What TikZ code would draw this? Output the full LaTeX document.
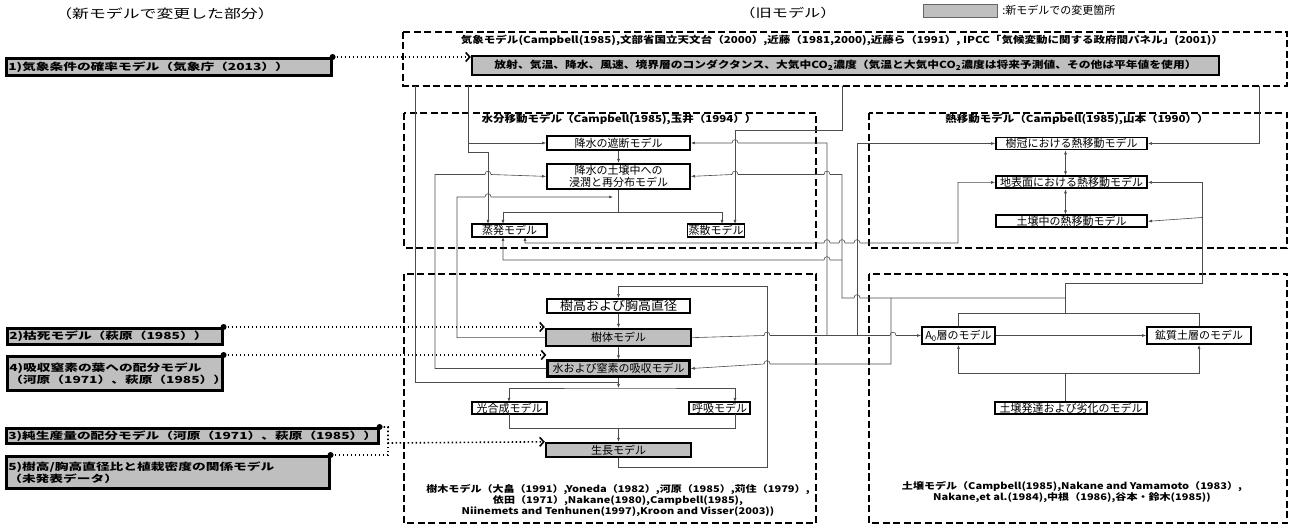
\documentclass[tikz,border=0pt]{standalone}
\usepackage{fontspec}
\setmainfont{Noto Sans CJK JP}
\newfontfamily\jp{Noto Sans CJK JP}
\newfontfamily\jpb[FakeStretch=1.2]{Noto Sans CJK JP}
\newfontfamily\jpw[FakeStretch=1.4]{Noto Sans CJK JP}
\newfontfamily\jps[FakeStretch=1.35]{Noto Sans CJK JP}
\usepackage{tikz}
\usetikzlibrary{positioning}
\usetikzlibrary{arrows.meta}
\definecolor{chg}{RGB}{191,191,191}
% line hops (x of crossing, y of line)
\newcommand{\hopr}[2]{-- ({#1-3},#2) .. controls ({#1-3},{#2-4.5}) and ({#1+3},{#2-4.5}) .. ({#1+3},#2)}
\newcommand{\hopl}[2]{-- ({#1+3},#2) .. controls ({#1+3},{#2-4.5}) and ({#1-3},{#2-4.5}) .. ({#1-3},#2)}

\begin{document}
\begin{tikzpicture}[x=1pt,y=-1pt]
% Styles:
\tikzset{frame/.style={draw, line width=1.5pt, dash pattern=on 7pt off 3.5pt}}
\tikzset{ttl/.style={inner sep=0pt, font=\jpb\bfseries\fontsize{9.6}{10}\selectfont}}
\tikzset{mbox/.style={draw, line width=1.9pt, fill=white, inner sep=0pt, font=\jp\fontsize{11}{12.5}\selectfont}}
\tikzset{newbox/.style={mbox, fill=chg, line width=2.4pt}}
\tikzset{addbox/.style={draw, line width=2.6pt, fill=chg, anchor=north west, inner sep=2pt, align=left, font=\jpw\bfseries\fontsize{9.8}{12}\selectfont}}
\tikzset{conn/.style={draw=black!70, line width=0.6pt}}
\tikzset{arr/.style={conn, -{Latex[length=4pt,width=3pt]}}}
\tikzset{darr/.style={conn, {Latex[length=4pt,width=3pt]}-{Latex[length=4pt,width=3pt]}}}
\tikzset{link/.style={line width=1.6pt, dash pattern=on 1.6pt off 2.4pt, -{Straight Barb[length=4pt,width=9pt]}}}

\useasboundingbox (0,0) rectangle (1291,526);

% Frames:
\draw[frame] (403,32) rectangle (1287,86);
\draw[frame] (404,113) rectangle (816,248);
\draw[frame] (869,113) rectangle (1287,248);
\draw[frame] (404,274) rectangle (816,523);
\draw[frame] (869,274) rectangle (1287,523);

% Header:
\node[font=\jps\fontsize{12.5}{13}\selectfont] (hdnew) at (165,14) {（新モデルで変更した部分）};
\node[font=\jps\fontsize{12}{13}\selectfont] (hdold) at (788,13) {（旧モデル）};
\node[draw=black!60, fill=chg, minimum width=74pt, minimum height=13pt, inner sep=0pt] (legend) at (960,10.5) {};
\node[font=\jp\fontsize{11}{12}\selectfont, inner sep=0pt] (legtxt) [right=5pt of legend] {:新モデルでの変更箇所};

% Weather model:
\node[ttl] (kisho) at (842,40) {気象モデル(Campbell(1985),文部省国立天文台（2000）,近藤（1981,2000),近藤ら（1991）, IPCC「気候変動に関する政府間パネル」(2001)）};
\node[newbox, minimum width=747pt, minimum height=19pt, font=\jpb\bfseries\fontsize{9.8}{11}\selectfont] (kishoin) at (845.5,65.5) {放射、気温、降水、風速、境界層のコンダクタンス、大気中CO\textsubscript{2}濃度（気温と大気中CO\textsubscript{2}濃度は将来予測値、その他は平年値を使用）};

% Water model:
\node[ttl] (suibun) at (619,119) {水分移動モデル（Campbell(1985),玉井（1994））};
\node[mbox, minimum width=143pt, minimum height=14pt] (shadan) at (618.5,143) {降水の遮断モデル};
\node[mbox, minimum width=143pt, minimum height=25pt, align=center] (shinjun) [below=12pt of shadan] {降水の土壌中への\\浸潤と再分布モデル};
\node[mbox, minimum width=75pt, minimum height=13pt] (johatsu) at (509.5,230.5) {蒸発モデル};
\node[mbox, minimum width=57pt, minimum height=13pt] (josan) at (716,230.5) {蒸散モデル};

% Heat model:
\node[ttl] (netsu) at (1077,119) {熱移動モデル（Campbell(1985),山本（1990））};
\node[mbox, minimum width=151pt, minimum height=12pt] (jukan) at (1071.5,143.5) {樹冠における熱移動モデル};
\node[mbox, minimum width=151pt, minimum height=12pt] (chihyo) [below=25pt of jukan] {地表面における熱移動モデル};
\node[mbox, minimum width=151pt, minimum height=12pt] (dochu) [below=25pt of chihyo] {土壌中の熱移動モデル};

% Tree model:
\node[mbox, minimum width=143pt, minimum height=14pt, font=\jp\fontsize{13}{14}\selectfont] (jukou) at (618.5,306) {樹高および胸高直径};
\node[newbox, minimum width=145pt, minimum height=17pt] (jutai) [below=14pt of jukou] {樹体モデル};
\node[newbox, minimum width=142pt, minimum height=16pt] (kyushu) [below=12pt of jutai] {水および窒素の吸収モデル};
\node[mbox, minimum width=75pt, minimum height=12pt] (kogo) at (509.5,408) {光合成モデル};
\node[mbox, minimum width=61pt, minimum height=12pt] (kokyu) at (719.5,408) {呼吸モデル};
\node[newbox, minimum width=145pt, minimum height=14pt] (seicho) at (618.5,450) {生長モデル};
\node[ttl, align=center, font=\jpb\bfseries\fontsize{9.2}{9.8}\selectfont] (jumoku) at (618,500.5) {樹木モデル（大畠（1991）,Yoneda（1982）,河原（1985）,苅住（1979）,\\依田（1971）,Nakane(1980),Campbell(1985),\\Niinemets and Tenhunen(1997),Kroon and Visser(2003))};

% Soil model:
\node[mbox, minimum width=73pt, minimum height=17pt] (a0) at (958.5,335.5) {A\textsubscript{0}層のモデル};
\node[mbox, minimum width=104pt, minimum height=17pt] (kosh) at (1199,335.5) {鉱質土層のモデル};
\node[mbox, minimum width=152pt, minimum height=12pt] (dojo) at (1071,408) {土壌発達および劣化のモデル};
\node[ttl, align=center, font=\jpb\bfseries\fontsize{9.2}{9.8}\selectfont] (dojottl) at (1072,492) {土壌モデル（Campbell(1985),Nakane and Yamamoto（1983）,\\Nakane,et al.(1984),中根（1986),谷本・鈴木(1985))};

% Changed parts (left):
\node[addbox, text width=321pt, minimum height=17pt] (n1) at (5,57) {1)気象条件の確率モデル（気象庁（2013））};
\node[addbox, text width=211pt, minimum height=16pt] (n2) at (6,327) {2)枯死モデル（萩原（1985））};
\node[addbox, text width=211pt, minimum height=34pt] (n4) at (6,355) {4)吸収窒素の葉への配分モデル\\（河原（1971）、萩原（1985））};
\node[addbox, text width=368pt, minimum height=15pt] (n3) at (5,427) {3)純生産量の配分モデル（河原（1971）、萩原（1985））};
\node[addbox, text width=319pt, minimum height=32pt] (n5) at (5,455) {5)樹高/胸高直径比と植栽密度の関係モデル\\（未発表データ）};

% Weather outlets:
\coordinate (wA) at (415,86);
\coordinate (wB) at (468,86);
\coordinate (wC) at (842,86);
\coordinate (wD) at (1259,86);
\draw[arr] (wB) |- (shadan.west);
\draw[arr] (wB) -- (468,152) -| (488,224);
\draw[arr] (wC) |- (735,130) -- (735,224);
\draw[arr] (wD) |- (jukan.east);
\draw[conn] (wA) |- (618.5,382);

% Tree links:
\draw[arr] (kyushu.south) -- (618.5,388);
\draw[darr] (509,402) |- (618.5,388) -| (735,402);
\draw[conn] (509,414) |- (735,428) -- (735,414);
\draw[arr] (618.5,428) -- (seicho.north);
\draw[arr] (seicho.south) |- (767,467) |- (618.5,286) -- (jukou.north);
\draw[arr] (jukou.south) -- (jutai.north);
\draw[arr] (jutai.south) -- (kyushu.north);

% Water links:
\draw[arr] (shadan.south) -- (shinjun.north);
\draw[arr] (jutai.west) -| (457,197) \hopr{488}{197} -- (613,197);
\draw[arr] (kyushu.west) -| (435,174.5) \hopr{488}{174.5} -- (shinjun.west);
\draw[conn] (shinjun.south) -- (618.5,212);
\draw[darr] (503,224) |- (722,212) -- (722,224);

% Soil outlets:
\draw[conn] (a0.north) |- (1199,313) -- (kosh.north);
\draw[arr] (1065,313) |- (1202,283) |- (chihyo.east);
\draw[arr] (1202,217.5) -- (dochu.east);
\draw[arr] (1065,298) -- (891,298) \hopl{857}{298} -- (842,298) -- (842,174.5) \hopl{827}{174.5} \hopl{735}{174.5} -- (shinjun.east);
\draw[arr] (891,298) -- (891,364) \hopl{767}{364} -- (kyushu.east);
\draw[arr] (842,260) \hopl{827}{260} -- (503,260) -- (503,237);

% Tree body outlet:
\draw[arr] (jutai.east) \hopr{767}{335.5} \hopr{893}{335.5} -- (a0.west);
\draw[arr] (827,335.5) -- (827,143) \hopl{735}{143} -- (shadan.east);
\draw[arr] (857,335.5) |- (jukan.west);

% Evaporation - ground surface:
\draw[darr] (525,237) -- (525,243) \hopr{827}{243} \hopr{842}{243} \hopr{857}{243} -- (958,243) |- (chihyo.west);

% Heat links:
\draw[darr] ([xshift=-6pt]jukan.south) -- ([xshift=-6pt]chihyo.north);
\draw[darr] ([xshift=-6pt]chihyo.south) -- ([xshift=-6pt]dochu.north);

% Soil links:
\draw[arr] (a0.east) -- (kosh.west);
\draw[conn] ([xshift=-6pt]dojo.north) -- (1065,373);
\draw[darr] (a0.south) |- (1199,373) -- (kosh.south);

% Dotted links:
\fill (n1.north east) circle[radius=3pt];
\draw[link] (n1.north east) -- (n1.north east -| kishoin.west);
\fill (n2.north east) circle[radius=3pt];
\draw[link] (n2.north east) -- (n2.north east -| jutai.west);
\fill (n4.north east) circle[radius=3pt];
\draw[link] (n4.north east) -- (n4.north east -| kyushu.west);
\fill (n3.north east) circle[radius=3pt];
\draw[link] (n3.north east) -| (388,443) -- (seicho.north west);
\fill (n5.north east) circle[radius=3pt];
\draw[link, -] (n5.north east) -| (388,443);
\end{tikzpicture}
\end{document}
